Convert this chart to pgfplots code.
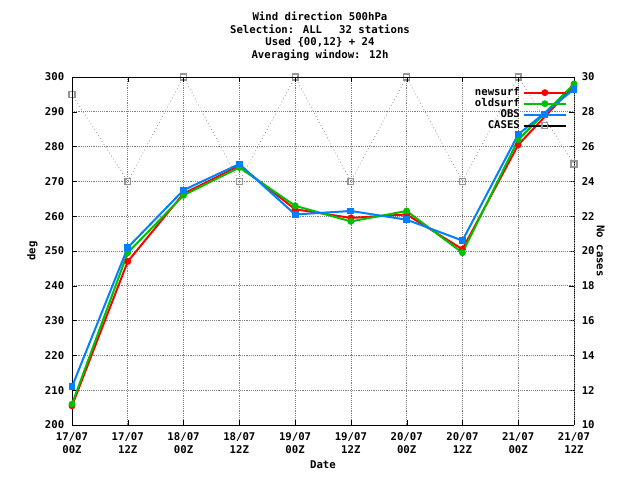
\documentclass[border=0pt]{standalone}
\usepackage{pgfplots}
\pgfplotsset{compat=1.18}
\usepackage{fontspec}
\setmainfont{DejaVu Sans Mono}
\definecolor{nred}{RGB}{255,0,0}
\definecolor{ogreen}{RGB}{0,192,0}
\definecolor{oblue}{RGB}{0,128,255}
\definecolor{cgray}{RGB}{150,150,150}
\begin{document}
\fontsize{8}{9.5}\selectfont\bfseries
\begin{tikzpicture}
\useasboundingbox (0,0) rectangle (480pt,360pt);
\pgfplotsset{every axis/.style={scale only axis, width=376.5pt, height=261pt, at={(54pt,41.25pt)}, anchor=south west,
  xmin=0, xmax=9, tick style={black}, major tick length=4pt, tick align=inside,
  /pgf/number format/assume math mode=true, font=\fontsize{8}{9.5}\selectfont\bfseries}}
\begin{axis}[axis y line*=right, axis x line=none, ymin=10, ymax=30, ytick={10,12,...,30},
  yticklabel style={xshift=3pt},
  ylabel={No cases}, ylabel style={rotate=180, yshift=-4pt}, clip=false]
\addplot[cgray, dotted, line width=0.6pt, mark=square, mark options={solid, line width=1pt}, mark size=2.2pt] coordinates {
(0,29)(1,24)(2,30)(3,24)(4,30)(5,24)(6,30)(7,24)(8,30)(9,25)};
\end{axis}
\begin{axis}[axis y line*=left, ymin=200, ymax=300, ytick={200,210,...,300},
  xtick={0,...,9}, xticklabels={{17/07\\00Z},{17/07\\12Z},{18/07\\00Z},{18/07\\12Z},{19/07\\00Z},{19/07\\12Z},{20/07\\00Z},{20/07\\12Z},{21/07\\00Z},{21/07\\12Z}},
  xticklabel style={align=center, yshift=-3pt}, yticklabel style={xshift=-3pt}, xtick pos=both,
  grid=major, grid style={gray, densely dotted, line width=0.5pt},
  xlabel={Date}, ylabel={deg},
  legend style={draw=none, fill=none, at={(0.995,0.985)}, anchor=north east, row sep=-3pt, font=\fontsize{8}{9}\selectfont\bfseries},
  legend cell align=right, legend plot pos=right,
  legend image code/.code={\draw[mark repeat=2,mark phase=2] plot coordinates {(0pt,0pt)(16pt,0pt)(32pt,0pt)};},
  every axis plot/.append style={line width=1.5pt, mark=*, mark size=1.8pt}]
\addplot[nred] coordinates {(0,205.5)(1,247)(2,266.5)(3,274.5)(4,262)(5,259.5)(6,260.5)(7,250.5)(8,280.5)(9,297.5)};
\addplot[ogreen] coordinates {(0,206)(1,249.5)(2,266)(3,274)(4,263)(5,258.5)(6,261.5)(7,249.5)(8,282)(9,298)};
\addplot[oblue, mark=square*] coordinates {(0,211)(1,251)(2,267.5)(3,275)(4,260.5)(5,261.5)(6,259)(7,253)(8,283.5)(9,296.5)};
\addlegendentry{newsurf}\addlegendentry{oldsurf}\addlegendentry{OBS}
\addlegendimage{draw=none, mark=square, mark options={cgray, solid, line width=1pt}, mark size=2.2pt}
\addlegendentry{CASES}
\end{axis}
\node[align=center, anchor=north] at (240pt,354pt) {Wind direction 500hPa\\Selection: ALL\quad\ 32 stations\\Used \{00,12\} + 24\\Averaging window: 12h};
\end{tikzpicture}
\end{document}
